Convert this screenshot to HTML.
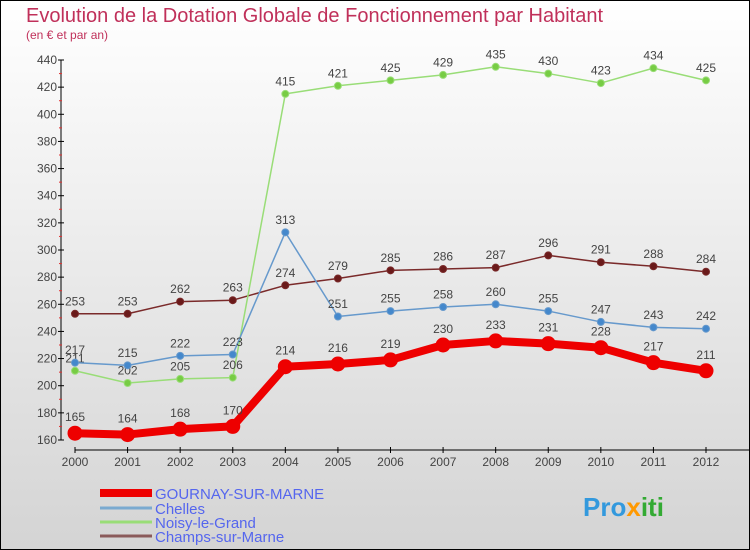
<!DOCTYPE html>
<html><head><meta charset="utf-8"><style>
body{margin:0}
#c{width:750px;height:550px;position:relative;overflow:hidden;font-family:"Liberation Sans",sans-serif}
</style></head><body>
<div id="c">
<svg id="s" width="750" height="550" xmlns="http://www.w3.org/2000/svg">
<defs><linearGradient id="bg" x1="0" y1="0" x2="0" y2="1"><stop offset="0" stop-color="#ffffff"/><stop offset="1" stop-color="#d4d4d4"/></linearGradient></defs>
<rect x="0.5" y="0.5" width="749" height="549" fill="url(#bg)" stroke="#000"/>
<text x="26" y="22" font-size="20" fill="#c0305a">Evolution de la Dotation Globale de Fonctionnement par Habitant</text>
<text x="26" y="39" font-size="12" fill="#c0305a">(en € et par an)</text>
<g id="axes"></g><g id="series"></g><g id="legend"></g>
<text x="583" y="516" font-size="26" font-weight="bold" fill="#3399dd">Pro<tspan fill="#ff9900">x</tspan><tspan fill="#33aa33">iti</tspan></text>
</svg>
</div>
<script>
const years=["2000","2001","2002","2003","2004","2005","2006","2007","2008","2009","2010","2011","2012"];
const yTicks=[160,180,200,220,240,260,280,300,320,340,360,380,400,420,440];
const gournay=[165,164,168,170,214,216,219,230,233,231,228,217,211];
const chelles=[217,215,222,223,313,251,255,258,260,255,247,243,242];
const noisy=[211,202,205,206,415,421,425,429,435,430,423,434,425];
const champs=[253,253,262,263,274,279,285,286,287,296,291,288,284];
const NS="http://www.w3.org/2000/svg";
const X=i=>75+i*(706-75)/12;
const Y=v=>440-(v-160)*380/280;
function mk(t,a,p){const e=document.createElementNS(NS,t);for(const k in a)e.setAttribute(k,a[k]);p.appendChild(e);return e;}
const ax=document.getElementById('axes');
let yl=mk('line',{x1:61,y1:Y(440),x2:61,y2:Y(160),stroke:'#000'},ax);


let xl=mk('line',{x1:75,y1:450,x2:750,y2:450,stroke:'#000'},ax);


yTicks.forEach((v,i)=>{
  mk('line',{x1:58,x2:64,y1:Y(v),y2:Y(v),stroke:'#000'},ax);
  if(i<yTicks.length-1) mk('line',{x1:59,x2:62,y1:Y(v+10),y2:Y(v+10),stroke:'#e03030'},ax);
  const t=mk('text',{x:57,y:Y(v)+4,'font-size':12,fill:'#444','text-anchor':'end'},ax);
  t.textContent=v;
  
  
});
years.forEach((y,i)=>{
  mk('line',{x1:X(i),x2:X(i),y1:447,y2:453,stroke:'#000'},ax);
  const t=mk('text',{x:X(i),y:466,'font-size':12,fill:'#444','text-anchor':'middle'},ax);
  t.textContent=y;
  
  
});
const sg=document.getElementById('series');
function draw(name,vals,col,dot,w,r){
  const g=mk('g',{},sg);
  
  
  const p=mk('polyline',{points:vals.map((v,i)=>X(i)+','+Y(v)).join(' '),fill:'none',stroke:col,'stroke-width':w,'stroke-linejoin':'round'},g);
  
  
  vals.forEach((v,i)=>{
    const c=mk('circle',{cx:X(i),cy:Y(v),r:r,fill:dot,stroke:col,'stroke-width':1},g);
    
    
    const t=mk('text',{x:X(i),y:Y(v)-(r+5),'font-size':12,fill:'#444','text-anchor':'middle'},g);
    t.textContent=v;
    
    
  });
}
draw('champs-sur-marne',champs,'#7a2a2a','#6a1a1a',1.5,3.5);
draw('noisy-le-grand',noisy,'#99dd77','#77cc44',1.5,3.5);
draw('chelles',chelles,'#6699cc','#4488cc',1.5,3.5);
draw('gournay-sur-marne',gournay,'#ee0000','#ee0000',8,7);
const lg=document.getElementById('legend');
[["GOURNAY-SUR-MARNE","#ee0000",8,493],["Chelles","#7aaad0",3,508],["Noisy-le-Grand","#99dd77",3,522],["Champs-sur-Marne","#8a5a5a",3,536]].forEach(d=>{
  const l=mk('line',{x1:100,x2:152,y1:d[3],y2:d[3],stroke:d[1],'stroke-width':d[2]},lg);
  
  
  const t=mk('text',{x:155,y:d[3]+6,'font-size':15,fill:'#5566ee'},lg);
  t.textContent=d[0];
  
  
});
</script>
</body></html>
